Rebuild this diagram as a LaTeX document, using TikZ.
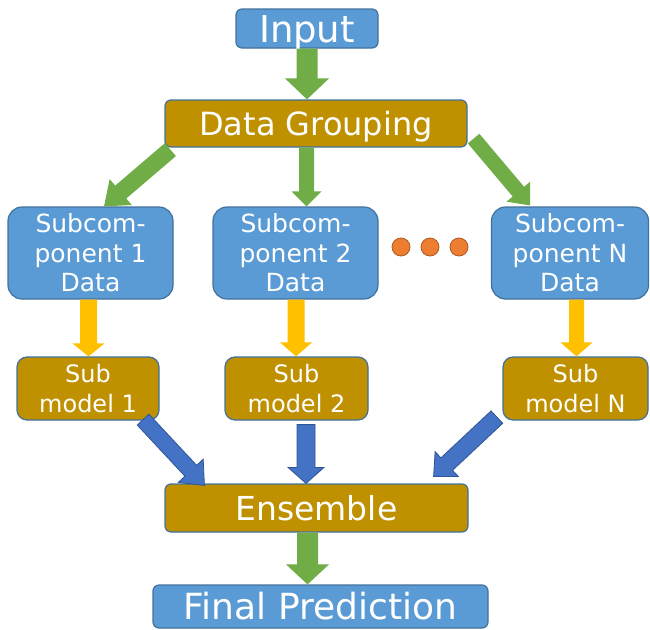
\documentclass[tikz,border=0pt]{standalone}
\usepackage{fontspec}
\setmainfont{DejaVu Sans}
\usetikzlibrary{calc}
\definecolor{boxblue}{HTML}{5B9BD5}
\definecolor{boxgold}{HTML}{BF9000}
\definecolor{edgeblue}{HTML}{41719C}
\definecolor{arrgreen}{HTML}{70AD47}
\definecolor{arryellow}{HTML}{FFC000}
\definecolor{arrblue}{HTML}{4472C4}
\definecolor{arrblueedge}{HTML}{2F5597}
\definecolor{dotorange}{HTML}{ED7D31}
\definecolor{dotedge}{HTML}{AE5A21}
\newcommand{\barrow}[6]{%
  \coordinate (ba-h) at ($(#3)!#6!(#2)$);
  \path[#1] ($(#2)!#4!90:(#3)$) -- ($(ba-h)!#4!90:(#3)$) -- ($(ba-h)!#5!90:(#3)$) -- (#3)
    -- ($(ba-h)!#5!-90:(#3)$) -- ($(ba-h)!#4!-90:(#3)$) -- ($(#2)!#4!-90:(#3)$) -- cycle;
}
\begin{document}
\begin{tikzpicture}[x=1pt,y=-1pt,
  box/.style={draw=edgeblue, line width=1.2pt, rounded corners=6pt, text=white, align=center, inner sep=0pt},
  bluebox/.style={box, fill=boxblue},
  goldbox/.style={box, fill=boxgold},
  oneline/.style={text height=#1, text depth=0pt},
  greenarr/.style={fill=arrgreen},
  yellowarr/.style={fill=arryellow},
  bluearr/.style={fill=arrblue, draw=arrblueedge, line width=0.8pt, line join=miter},
  dot/.style={circle, fill=dotorange, draw=dotedge, line width=0.8pt, minimum size=18pt, inner sep=0pt}
]
\useasboundingbox (0,0) rectangle (650,629);

% nodes
\node[bluebox, oneline=27pt, minimum width=142pt, minimum height=39pt, font=\fontsize{37}{43}\selectfont] (in) at (307,28.5) {Input};
\node[goldbox, oneline=23.3pt, minimum width=302pt, minimum height=47pt, font=\fontsize{32}{38}\selectfont] (dg) at (316,123.5) {Data Grouping};

\node[bluebox, rounded corners=14pt, minimum width=165pt, minimum height=92pt, font=\fontsize{25}{29.5}\selectfont] (s1) at (90.5,253) {Subcom-\\ponent 1\\Data};
\node[bluebox, rounded corners=14pt, minimum width=165pt, minimum height=92pt, font=\fontsize{25}{29.5}\selectfont] (s2) at (295.5,253) {Subcom-\\ponent 2\\Data};
\node[bluebox, rounded corners=14pt, minimum width=157pt, minimum height=92pt, font=\fontsize{25}{29.5}\selectfont] (sn) at (570,253) {Subcom-\\ponent N\\Data};

\node[dot] (d1) at (401,247) {};
\node[dot] (d2) at (430,247) {};
\node[dot] (d3) at (459,247) {};

\node[goldbox, rounded corners=10pt, minimum width=142pt, minimum height=63pt, font=\fontsize{24}{30}\selectfont] (m1) at (88,388.5) {Sub\\model 1};
\node[goldbox, rounded corners=10pt, minimum width=143pt, minimum height=63pt, font=\fontsize{24}{30}\selectfont] (m2) at (296.5,388.5) {Sub\\model 2};
\node[goldbox, rounded corners=10pt, minimum width=145pt, minimum height=63pt, font=\fontsize{24}{30}\selectfont] (mn) at (575.5,388.5) {Sub\\model N};

\node[goldbox, oneline=24pt, minimum width=303pt, minimum height=48pt, font=\fontsize{33}{39}\selectfont] (ens) at (316.5,508) {Ensemble};
\node[bluebox, oneline=26.2pt, minimum width=335pt, minimum height=43pt, font=\fontsize{36}{42}\selectfont] (fin) at (320.5,606.5) {Final Prediction};

% arrow end points
\coordinate (a1s) at (in.south);
\coordinate (a1e) at (in.south |- dg.north);
\coordinate (a2s) at ($(dg.south)+(-9.5,0)$);
\coordinate (a2e) at (a2s |- s2.north);
\coordinate (a3s) at ($(dg.south west)+(6,2)$);
\coordinate (a3e) at ($(s1.north)+(13.5,0)$);
\coordinate (a4s) at ($(dg.south east)+(6,-9)$);
\coordinate (a4e) at ($(sn.north)+(-40,-1)$);

\coordinate (y1s) at ($(s1.south)+(-2,0)$);
\coordinate (y1e) at (y1s |- m1.north);
\coordinate (y2s) at ($(s2.south)+(0.5,0)$);
\coordinate (y2e) at (y2s |- m2.north);
\coordinate (y3s) at ($(sn.south)+(6.5,0)$);
\coordinate (y3e) at (y3s |- mn.north);

\coordinate (b1s) at ($(m1.south east)+(-16.5,-1)$);
\coordinate (b1e) at ($(ens.north west)+(40,2)$);
\coordinate (b2s) at ($(m2.south)+(9.5,4)$);
\coordinate (b2e) at (b2s |- ens.north);
\coordinate (b3s) at ($(mn.south west)+(-5.5,-3.5)$);
\coordinate (b3e) at ($(ens.north east)+(-35,-7)$);

\coordinate (g5s) at ($(ens.south)+(-9,0)$);
\coordinate (g5e) at (g5s |- fin.north);

% arrows
\barrow{greenarr}{a1s}{a1e}{10.5pt}{22pt}{21pt}
\barrow{greenarr}{a2s}{a2e}{7.5pt}{15pt}{15pt}
\barrow{greenarr}{a3s}{a3e}{8.5pt}{17pt}{22pt}
\barrow{greenarr}{a4s}{a4e}{7.5pt}{15.5pt}{18pt}

\barrow{yellowarr}{y1s}{y1e}{8.5pt}{16pt}{13pt}
\barrow{yellowarr}{y2s}{y2e}{8.5pt}{16pt}{14pt}
\barrow{yellowarr}{y3s}{y3e}{7.5pt}{16pt}{14pt}

\barrow{bluearr}{b1s}{b1e}{8pt}{17pt}{20pt}
\barrow{bluearr}{b2s}{b2e}{9pt}{18pt}{16pt}
\barrow{bluearr}{b3s}{b3e}{8.5pt}{17pt}{18pt}

\barrow{greenarr}{g5s}{g5e}{10.5pt}{21.5pt}{20pt}
\end{tikzpicture}
\end{document}
